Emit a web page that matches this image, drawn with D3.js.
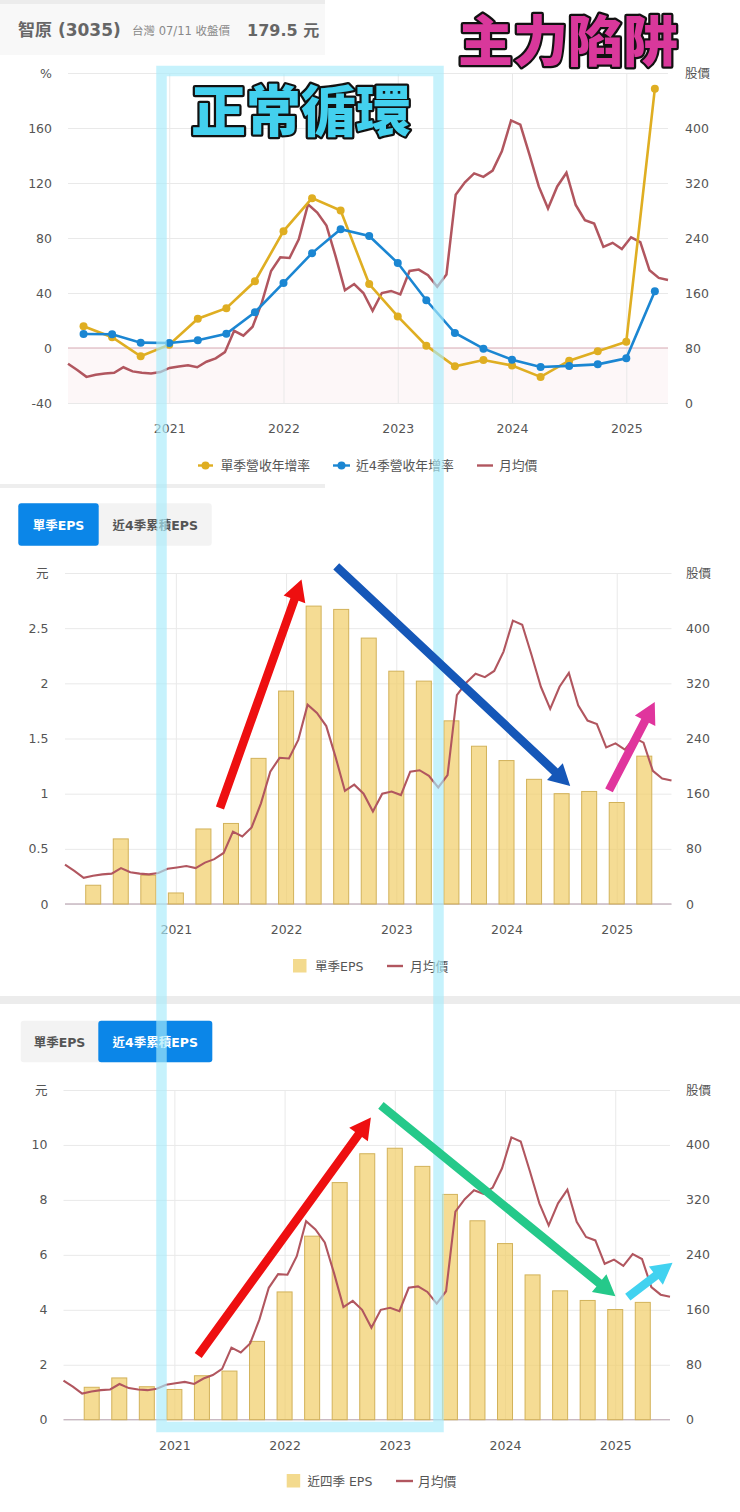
<!DOCTYPE html>
<html>
<head>
<meta charset="utf-8">
<script src="https://cdn.jsdelivr.net/npm/d3@7"></script>
<style>
  html, body { margin: 0; padding: 0; background: #fff; }
  svg { display: block; }
  text { font-family: "DejaVu Sans", "Noto Sans CJK TC", sans-serif; }
</style>
</head>
<body>
<div id="plot"></div>
<script>
// monthly average price, 2020-01 .. 2025-06
var price = [57, 48, 38, 41, 43, 44, 52, 46, 44, 43, 45, 51,
  53, 55, 52, 60, 65, 74, 105, 98, 111, 146, 192, 212,
  211, 238, 289, 277, 258, 213, 164, 173, 160, 134, 160, 163,
  158, 192, 194, 186, 169, 187, 303, 321, 334, 329, 338, 366,
  411, 405, 361, 315, 283, 315, 335, 288, 266, 261, 227, 233,
  224, 241, 234, 193, 182, 179];

// quarters, 2020.25 .. 2025.25
var quarters = [2020.25, 2020.5, 2020.75, 2021, 2021.25, 2021.5, 2021.75,
  2022, 2022.25, 2022.5, 2022.75, 2023, 2023.25, 2023.5, 2023.75,
  2024, 2024.25, 2024.5, 2024.75, 2025, 2025.25];

var revQuarter = [15.8, 7.8, -6, 2.4, 21.3, 29, 48.5, 85, 109, 100, 46.5,
  23, 1.7, -13.3, -8.7, -12.8, -21, -9.2, -2.4, 4.6, 188.6];
var rev4Q = [10.2, 10, 3.9, 3.6, 5.6, 10.4, 26, 47.3, 69, 86.4, 81.5,
  61.8, 34.7, 10.9, -0.5, -8.5, -13.8, -13, -11.9, -7.5, 41.2];
var epsQuarter = [0.17, 0.59, 0.26, 0.1, 0.68, 0.73, 1.32, 1.93, 2.7, 2.67, 2.41,
  2.11, 2.02, 1.66, 1.43, 1.3, 1.13, 1, 1.02, 0.92, 1.34];
var eps4Q = [1.18, 1.52, 1.2, 1.1, 1.6, 1.77, 2.85, 4.65, 6.68, 8.63, 9.68,
  9.88, 9.22, 8.2, 7.24, 6.41, 5.27, 4.69, 4.34, 4.01, 4.27];

var years = [2021, 2022, 2023, 2024, 2025];
var priceTicks = [0, 80, 160, 240, 320, 400];
var revTicks = [-40, 0, 40, 80, 120, 160];
var epsTicks = [0, 0.5, 1, 1.5, 2, 2.5];
var eps4QTicks = [0, 2, 4, 6, 8, 10];

// annotation arrows as [year, eps] pairs
var arrowsQuarter = [
  { from: [2021.4, 0.87], to: [2022.14, 2.94], color: '#ee0f10' },
  { from: [2022.455, 3.06], to: [2024.578, 1.07], color: '#1557b8' },
  { from: [2024.93, 1.03], to: [2025.345, 1.83], color: '#e0359d' }
];
var arrows4Q = [
  { from: [2021.216, 2.34], to: [2022.783, 11.0], color: '#ee0f10' },
  { from: [2022.874, 11.44], to: [2025.002, 4.49], color: '#25c98a' },
  { from: [2025.114, 4.46], to: [2025.52, 5.71], color: '#41d2f0' }
];

var gold = '#dfae22', blue = '#1b86d2', red = '#b1565f', grid = '#e9e9e9', ink = '#555';

var svg = d3.select('#plot').append('svg')
  .attr('width', 740)
  .attr('height', 1512);

// page blocks behind the charts
svg.append('rect').attr('width', 740).attr('height', 1512).attr('fill', '#fff');
svg.append('rect').attr('width', 325).attr('height', 4).attr('fill', '#ececec');
svg.append('rect').attr('y', 4).attr('width', 325).attr('height', 51).attr('fill', '#f8f8f8');
svg.append('rect').attr('y', 484).attr('width', 325).attr('height', 4).attr('fill', '#eeeeee');
svg.append('rect').attr('y', 996).attr('width', 740).attr('height', 8).attr('fill', '#ececec');

function label (x, y, str, size, color, weight, anchor) {
  return svg.append('text')
    .attr('x', x).attr('y', y)
    .attr('dy', '0.36em')
    .attr('font-size', size)
    .attr('fill', color)
    .attr('font-weight', weight || 'normal')
    .attr('text-anchor', anchor || 'start')
    .text(str);
}

label(18, 30, '智原 (3035)', 17, '#666', 'bold');
label(132, 31, '台灣 07/11 收盤價', 11.5, '#888');
label(247, 30, '179.5 元', 16, '#666', 'bold');

function drawPanel (cfg) {
  var w = cfg.right - cfg.left;
  var g = svg.append('g');

  var x = d3.scaleLinear().domain(cfg.yearDomain).range([cfg.left, cfg.right]);
  var xMonth = d3.scalePoint().domain(d3.range(price.length)).range([cfg.left, cfg.right]);
  var y = d3.scaleLinear().domain(cfg.domain).range([cfg.bottom, cfg.top]);
  var yPrice = d3.scaleLinear().domain([0, 480]).range([cfg.bottom, cfg.top]);

  if (cfg.domain[0] < 0) {
    g.append('rect')
      .attr('x', cfg.left).attr('y', y(0))
      .attr('width', w).attr('height', cfg.bottom - y(0))
      .attr('fill', '#fdf7f8');
  }

  // gridlines and labels come from the axes
  var axL = g.append('g')
    .attr('transform', 'translate(' + cfg.left + ',0)')
    .call(d3.axisLeft(y).tickValues(cfg.ticks.concat(cfg.domain[1])).tickSize(-w)
      .tickPadding(cfg.left - cfg.labelRight).tickFormat(function (d) {
        return d === cfg.domain[1] ? cfg.unit : String(d);
      }));
  var axR = g.append('g')
    .attr('transform', 'translate(' + cfg.right + ',0)')
    .call(d3.axisRight(yPrice).tickValues(priceTicks.concat(480)).tickSize(0)
      .tickPadding(cfg.labelLeft - cfg.right).tickFormat(function (d) {
        return d === 480 ? '股價' : String(d);
      }));
  var axB = g.append('g')
    .attr('transform', 'translate(0,' + cfg.bottom + ')')
    .call(d3.axisBottom(x).tickValues(years).tickSize(-(cfg.bottom - cfg.top))
      .tickPadding(cfg.yearPad).tickFormat(d3.format('d')));

  [axL, axR, axB].forEach(function (a) {
    a.select('.domain').remove();
    a.selectAll('line').attr('stroke', grid);
    a.selectAll('text').attr('fill', ink).attr('font-size', 12.5)
      .style('font-family', '"DejaVu Sans", "Noto Sans CJK TC", sans-serif');
  });

  // baseline at zero
  g.append('line')
    .attr('x1', cfg.left).attr('x2', cfg.right)
    .attr('y1', y(0)).attr('y2', y(0))
    .attr('stroke', cfg.zeroColor).attr('stroke-width', 1.3);

  if (cfg.bars) {
    g.selectAll('.bar').data(cfg.bars).enter().append('rect')
      .attr('class', 'bar')
      .attr('x', function (d, i) { return x(quarters[i]) - 7.5; })
      .attr('y', function (d) { return y(d); })
      .attr('width', 15)
      .attr('height', function (d) { return y(0) - y(d); })
      .attr('fill', '#f1cd66')
      .attr('fill-opacity', 0.7)
      .attr('stroke', '#d2b25a')
      .attr('stroke-width', 1);
  }

  // price line is stretched across the whole plot width
  g.append('path')
    .datum(price)
    .attr('fill', 'none')
    .attr('stroke', red)
    .attr('stroke-width', cfg.series ? 2.5 : 2.1)
    .attr('d', d3.line()
      .x(function (d, i) { return xMonth(i); })
      .y(function (d) { return yPrice(d); }));

  (cfg.series || []).forEach(function (s) {
    g.append('path')
      .datum(s.values)
      .attr('fill', 'none')
      .attr('stroke', s.color)
      .attr('stroke-width', 2.6)
      .attr('d', d3.line()
        .x(function (d, i) { return x(quarters[i]); })
        .y(function (d) { return y(d); }));
    g.selectAll('.pt' + s.color.slice(1)).data(s.values).enter().append('circle')
      .attr('cx', function (d, i) { return x(quarters[i]); })
      .attr('cy', function (d) { return y(d); })
      .attr('r', 4)
      .attr('fill', s.color);
  });

  return { x: x, y: y };
}

function legendLine (x1, x2, y, color, marker) {
  svg.append('line')
    .attr('x1', x1).attr('x2', x2).attr('y1', y).attr('y2', y)
    .attr('stroke', color).attr('stroke-width', 2.4);
  if (marker) {
    svg.append('circle').attr('cx', (x1 + x2) / 2).attr('cy', y).attr('r', 4).attr('fill', color);
  }
}

function legendBox (x, y) {
  svg.append('rect')
    .attr('x', x).attr('y', y - 7)
    .attr('width', 13.5).attr('height', 13.5)
    .attr('fill', '#f3da8e');
}

function tabs (x0, xMid, x1, y0, y1, activeLeft) {
  var r = 3;
  svg.append('rect').attr('x', x0).attr('y', y0).attr('width', x1 - x0).attr('height', y1 - y0)
    .attr('rx', r).attr('fill', '#f3f3f3');
  svg.append('rect')
    .attr('x', activeLeft ? x0 : xMid).attr('y', y0)
    .attr('width', activeLeft ? xMid - x0 : x1 - xMid).attr('height', y1 - y0)
    .attr('rx', r).attr('fill', '#0b86e8');
  var yc = (y0 + y1) / 2;
  label((x0 + xMid) / 2, yc + 1, '單季EPS', 12.5, activeLeft ? '#fff' : '#555', 'bold', 'middle');
  label((xMid + x1) / 2, yc + 1, '近4季累積EPS', 12.5, activeLeft ? '#555' : '#fff', 'bold', 'middle');
}

// first panel: revenue growth
drawPanel({
  left: 68, right: 668, top: 73, bottom: 403,
  yearDomain: [2020.114, 2025.365], domain: [-40, 200],
  ticks: revTicks, unit: '%', labelRight: 52, labelLeft: 685, yearPad: 21.5,
  zeroColor: '#e6c6cc',
  series: [
    { values: revQuarter, color: gold },
    { values: rev4Q, color: blue }
  ]
});
legendLine(198, 213, 465.5, gold, true);
label(220.5, 465.5, '單季營收年增率', 12.8, ink);
legendLine(333, 350, 465.5, blue, true);
label(356, 465.5, '近4季營收年增率', 12.8, ink);
legendLine(477, 493, 465.5, red);
label(499, 465.5, '月均價', 12.8, ink);

// second panel: quarterly EPS
tabs(18.3, 98.7, 211.7, 503.3, 545.7, true);
var p2 = drawPanel({
  left: 65, right: 671.5, top: 573, bottom: 904,
  yearDomain: [2019.994, 2025.497], domain: [0, 3],
  ticks: epsTicks, unit: '元', labelRight: 48.5, labelLeft: 686, yearPad: 21,
  zeroColor: '#c9b9c2',
  bars: epsQuarter
});
legendBox(293, 966);
label(315, 966, '單季EPS', 12.5, ink);
legendLine(387, 403, 966, red);
label(410, 966, '月均價', 12.8, ink);

// third panel: trailing four quarters EPS
tabs(20.7, 98.3, 212.3, 1020.7, 1062.3, false);
var p3 = drawPanel({
  left: 63.5, right: 670, top: 1090, bottom: 1419.7,
  yearDomain: [2019.994, 2025.497], domain: [0, 12],
  ticks: eps4QTicks, unit: '元', labelRight: 47.5, labelLeft: 686, yearPad: 21,
  zeroColor: '#c9b9c2',
  bars: eps4Q
});
legendBox(286.7, 1481);
label(307.5, 1481, '近四季 EPS', 12.5, ink);
legendLine(396, 413, 1481, red);
label(418, 1481, '月均價', 12.8, ink);

// cyan frame over the three charts
svg.append('rect')
  .attr('x', 161.5).attr('y', 71)
  .attr('width', 277).attr('height', 1356)
  .attr('fill', 'none')
  .attr('stroke', '#a9ecfa')
  .attr('stroke-opacity', 0.66)
  .attr('stroke-width', 10.5);

function arrow (p, a) {
  var x0 = p.x(a.from[0]), y0 = p.y(a.from[1]);
  var x1 = p.x(a.to[0]), y1 = p.y(a.to[1]);
  var len = Math.hypot(x1 - x0, y1 - y0);
  var ux = (x1 - x0) / len, uy = (y1 - y0) / len;
  var nx = -uy, ny = ux;
  var hw = 4.3, hh = 11.5, hl = 21;
  var bx = x1 - ux * hl, by = y1 - uy * hl;
  var pts = [
    [x0 + nx * hw, y0 + ny * hw],
    [bx + nx * hw, by + ny * hw],
    [bx + nx * hh, by + ny * hh],
    [x1, y1],
    [bx - nx * hh, by - ny * hh],
    [bx - nx * hw, by - ny * hw],
    [x0 - nx * hw, y0 - ny * hw]
  ];
  svg.append('path')
    .attr('d', d3.line()(pts) + 'Z')
    .attr('fill', a.color);
}

arrowsQuarter.forEach(function (a) { arrow(p2, a); });
arrows4Q.forEach(function (a) { arrow(p3, a); });

function bigTitle (x, y, str, fill) {
  svg.append('text')
    .attr('x', x).attr('y', y)
    .attr('font-size', 55)
    .attr('font-weight', 900)
    .attr('fill', fill)
    .attr('stroke', '#111')
    .attr('stroke-width', 4.5)
    .attr('stroke-linejoin', 'round')
    .attr('paint-order', 'stroke')
    .style('font-family', '"Noto Sans CJK TC", sans-serif')
    .text(str);
}

bigTitle(191, 131, '正常循環', '#43d0ee');
bigTitle(458, 61, '主力陷阱', '#d9389b');
</script>
</body>
</html>
